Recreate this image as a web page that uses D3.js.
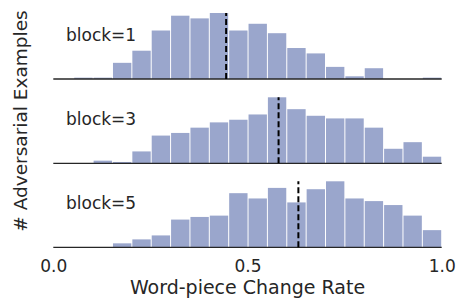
<!DOCTYPE html>
<html><head><meta charset="utf-8">
<script src="https://cdn.jsdelivr.net/npm/d3@7"></script>
<style>body{margin:0;background:#fff}svg{display:block}text{font-family:"DejaVu Sans",sans-serif;fill:#262626}</style>
</head><body><svg id="c" width="458" height="298"></svg>
<script>
const blocks = ["block=1", "block=3", "block=5"];
const binStart = 1/19, binEnd = 1.0, binCount = 19;
const counts1 = [1,1,12,21,36,47,45,49,36,41,34,23,19,9,2,8,0,0,1];
const counts3 = [0,2,1,9,21,23,27,31,33,37,50,41,36,34,34,27,11,16,5];
const counts5 = [0,0,3,6,9,21,23,24,41,37,45,34,44,50,37,35,32,24,13];
const means = [0.445, 0.580, 0.631];
const xTicks = [0.0, 0.5, 1.0];
const series = [counts1, counts3, counts5];

const svg = d3.select("#c");
const x = d3.scaleLinear().domain([0, 1]).range([53.3, 441.7]);
const baselines = [79, 163.3, 247.3];
const maxH = 66;
const bw = (binEnd - binStart) / binCount;

series.forEach((cs, p) => {
  const b = baselines[p];
  const mx = d3.max(cs);
  const y = d3.scaleLinear().domain([0, mx]).range([b, b - maxH]);
  const g = svg.append("g");
  g.selectAll("rect").data(cs).join("rect")
    .attr("x", (d, i) => x(binStart + i * bw) + 0.5)
    .attr("width", x(bw) - x(0) - 1)
    .attr("y", d => y(d))
    .attr("height", d => b - y(d))
    .attr("fill", "#9aa6cc");
  g.append("line")
    .attr("x1", x(0)).attr("x2", x(1))
    .attr("y1", b).attr("y2", b)
    .attr("stroke", "#262626").attr("stroke-width", 1.3);
  g.append("line")
    .attr("x1", x(means[p])).attr("x2", x(means[p]))
    .attr("y1", b).attr("y2", y(mx))
    .attr("stroke", "#000").attr("stroke-width", 2)
    .attr("stroke-dasharray", "6,3");
  g.append("text").attr("x", 66).attr("y", b - 38.5)
    .attr("font-size", 17).text(blocks[p]);
});

const xAxis = d3.axisBottom(x).tickValues(xTicks).tickFormat(d3.format(".1f")).tickSize(0).tickPadding(0);
const ax = svg.append("g").attr("transform", "translate(0,256)").call(xAxis);
ax.select(".domain").remove();
ax.selectAll("text").attr("font-size", 17).attr("font-family", "DejaVu Sans").attr("fill", "#262626").attr("dy", "0.95em");

svg.append("text").attr("x", 247.5).attr("y", 293.5).attr("text-anchor", "middle")
  .attr("font-size", 19).text("Word-piece Change Rate");
svg.append("text").attr("transform", "translate(26.5,121) rotate(-90)").attr("text-anchor", "middle")
  .attr("font-size", 18.5).text("# Adversarial Examples");
</script></body></html>
